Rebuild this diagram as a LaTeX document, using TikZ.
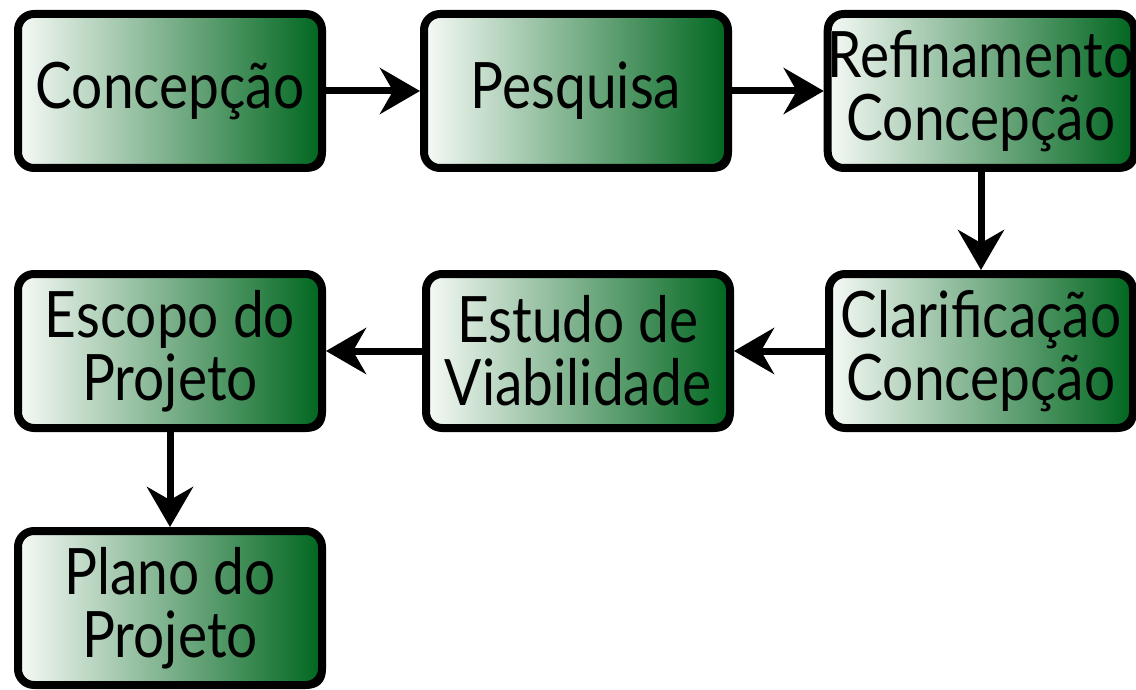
\documentclass[tikz,border=0pt]{standalone}
\usepackage{fontspec}
\setmainfont{Lato}[FakeStretch=0.86]
\usetikzlibrary{arrows.meta,shadows}
\definecolor{boxlight}{HTML}{F6FAF6}
\definecolor{boxdark}{HTML}{00661F}
\tikzset{
  stepbox/.style={rounded corners=16pt, draw=black, line width=8pt,
    left color=boxlight, right color=boxdark,
    minimum width=304pt, minimum height=154pt, inner sep=0pt,
    align=center, font=\fontsize{64}{63}\selectfont,
    drop shadow={shadow xshift=3.5pt, shadow yshift=-3.5pt, fill=black, opacity=1}},
  flow/.style={line width=7pt, -{Stealth[length=40pt,width=46pt,inset=13pt]}}
}
\begin{document}
\begin{tikzpicture}[x=1pt,y=-1pt]
\useasboundingbox (0,0) rectangle (1136,690);
\node[stepbox] (conc) at (170,91) {Concepção};
\node[stepbox] (pesq) at (576,91) {Pesquisa};
\node[stepbox] (refi) at (981,91) {Refinamento\\Concepção};
\node[stepbox] (clar) at (981,351) {Clarificação\\Concepção};
\node[stepbox] (estu) at (578,351) {Estudo de\\Viabilidade};
\node[stepbox] (esco) at (170,351) {Escopo do\\Projeto};
\node[stepbox] (plan) at (170,608) {Plano do\\Projeto};
\draw[flow] (conc) -- (pesq);
\draw[flow] (pesq) -- (refi);
\draw[flow] (refi) -- (clar);
\draw[flow] (clar) -- (estu);
\draw[flow] (estu) -- (esco);
\draw[flow] (esco) -- (plan);
\end{tikzpicture}
\end{document}
